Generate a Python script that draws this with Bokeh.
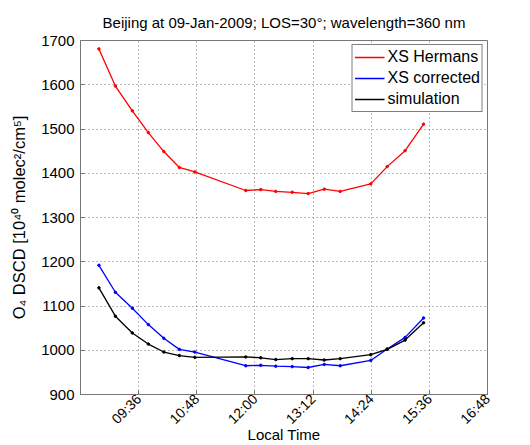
import math
from bokeh.plotting import figure
from bokeh.models import Range1d, FixedTicker
from bokeh.embed import file_html
from bokeh.resources import INLINE

# Local time in decimal hours
times = [8.78, 9.12, 9.47, 9.80, 10.12, 10.44, 10.76, 11.81, 12.12, 12.43,
         12.77, 13.10, 13.43, 13.76, 14.39, 14.73, 15.10, 15.48]
xs_hermans = [1681, 1597, 1541, 1492, 1449, 1413, 1403, 1361, 1363, 1359,
              1357, 1354, 1364, 1359, 1376, 1415, 1451, 1511]
xs_corrected = [1192, 1131, 1095, 1058, 1027, 1002, 996, 965, 966, 964,
                963, 961, 968, 965, 977, 1003, 1029, 1073]
simulation = [1141, 1077, 1039, 1014, 996, 988, 984, 985, 983, 979,
              981, 981, 978, 981, 990, 1002, 1023, 1062]

x_ticks = [9.6, 10.8, 12.0, 13.2, 14.4, 15.6, 16.8]
x_tick_labels = ["09:36", "10:48", "12:00", "13:12", "14:24", "15:36", "16:48"]
y_ticks = [900, 1000, 1100, 1200, 1300, 1400, 1500, 1600, 1700]

FONT = "Liberation Sans"

p = figure(width=530, height=445, output_backend="svg", toolbar_location=None,
           x_range=Range1d(8.4, 16.8), y_range=Range1d(900, 1700),
           title="Beijing at 09-Jan-2009; LOS=30°; wavelength=360 nm",
           min_border_left=80, min_border_right=43, min_border_top=40,
           min_border_bottom=49)

p.title.text_font = FONT
p.title.text_font_size = "15px"
p.title.text_font_style = "normal"
p.title.text_color = "black"
p.title.align = "center"
p.title.offset = 0
p.title.standoff = 19

series = [(xs_hermans, "red", "XS Hermans"),
          (xs_corrected, "blue", "XS corrected"),
          (simulation, "black", "simulation")]
for vals, col, lab in series:
    p.line(times, vals, line_color=col, line_width=1.3, legend_label=lab)
    p.scatter(times, vals, marker="circle", size=2.5, fill_color=col,
              line_color=col)

p.xaxis.ticker = FixedTicker(ticks=x_ticks)
p.xaxis.major_label_overrides = {t: l for t, l in zip(x_ticks, x_tick_labels)}
p.xaxis.major_label_orientation = math.pi / 4
p.yaxis.ticker = FixedTicker(ticks=y_ticks)

p.xaxis.axis_label = "Local Time"
p.yaxis.axis_label = "O₄ DSCD [10⁴⁰ molec²/cm⁵]"

for ax in (p.xaxis[0], p.yaxis[0]):
    ax.axis_label_text_font = FONT
    ax.axis_label_text_font_style = "normal"
    ax.axis_label_text_color = "black"
    ax.major_label_text_font = FONT
    ax.major_label_text_color = "black"
    ax.axis_line_color = "#777777"
    ax.major_tick_line_color = "#777777"
    ax.major_tick_in = 4
    ax.major_tick_out = 0
    ax.minor_tick_line_color = None
p.xaxis.axis_label_text_font_size = "15px"
p.yaxis.axis_label_text_font_size = "16.5px"
p.xaxis.major_label_text_font_size = "14px"
p.yaxis.major_label_text_font_size = "15px"
p.xaxis.major_label_standoff = 2
p.yaxis.major_label_standoff = 6
p.xaxis.axis_label_standoff = -10
p.yaxis.axis_label_standoff = 10

p.xgrid.grid_line_dash = "1 3"
p.ygrid.grid_line_dash = "1 3"
p.xgrid.grid_line_color = "#555555"
p.ygrid.grid_line_color = "#555555"
p.xgrid.grid_line_alpha = 0.8
p.ygrid.grid_line_alpha = 0.8

p.outline_line_color = "#777777"
p.outline_line_alpha = 1.0
p.background_fill_color = "white"
p.border_fill_color = "white"

lg = p.legend[0]
lg.location = "top_right"
lg.margin = 4
lg.padding = 2
lg.spacing = 1
lg.label_text_font = FONT
lg.label_text_font_size = "16px"
lg.label_text_color = "black"
lg.glyph_width = 30
lg.glyph_height = 20
lg.label_height = 20
lg.label_standoff = 3
lg.border_line_color = "black"
lg.border_line_width = 1
lg.background_fill_alpha = 1.0

open("out.html", "w").write(file_html(p, INLINE))
